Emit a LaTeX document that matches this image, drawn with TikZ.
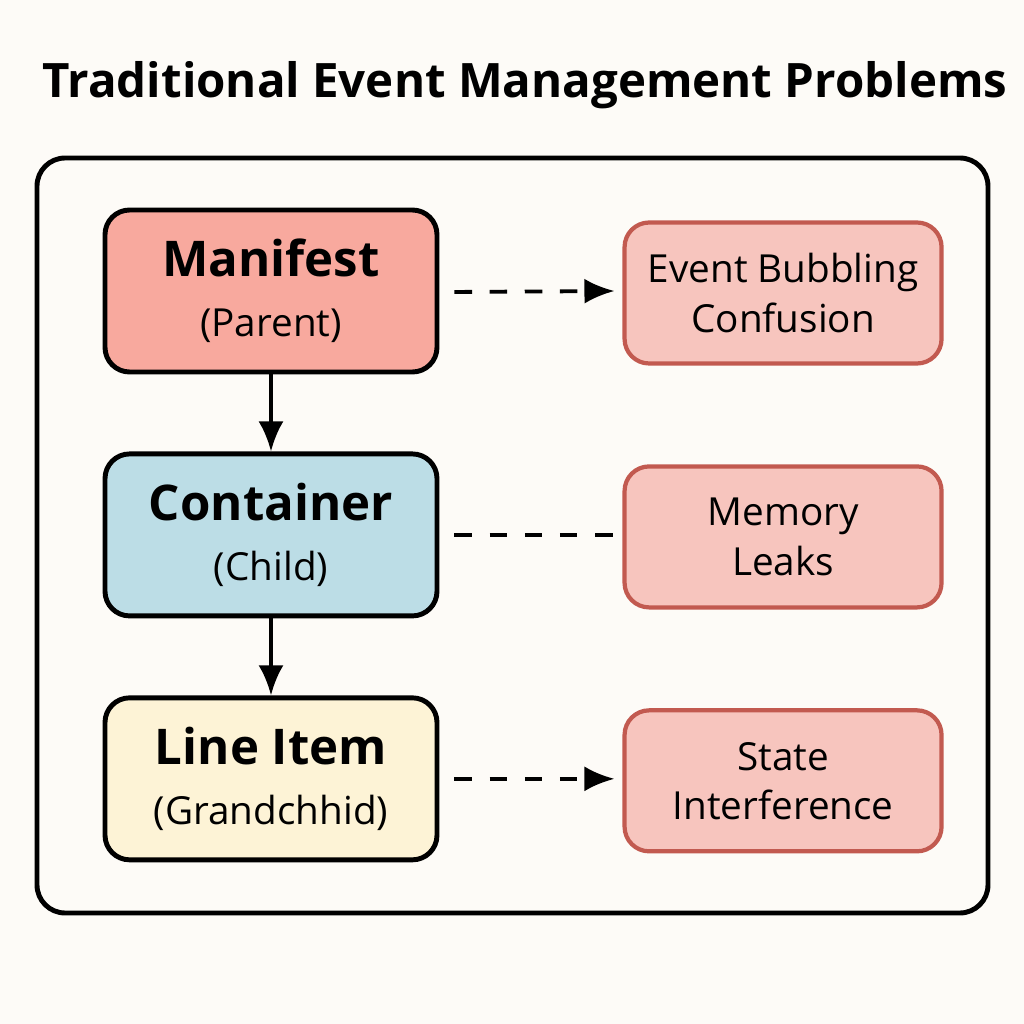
\documentclass[tikz,border=0pt]{standalone}
\usepackage{fontspec}
\setmainfont{Open Sans}
\usepackage{tikz}
\usetikzlibrary{positioning,arrows.meta}

\definecolor{bgc}{HTML}{FDFBF7}
\definecolor{redf}{HTML}{F8A99E}
\definecolor{bluef}{HTML}{BCDDE6}
\definecolor{yelf}{HTML}{FDF3D6}
\definecolor{probf}{HTML}{F7C5BE}
\definecolor{probd}{HTML}{C25A50}

\begin{document}
\begin{tikzpicture}[auto,node distance=0.77cm]
	\tikzstyle{level}=[rectangle,rounded corners=7pt,draw=black,line width=1.4pt,minimum width=3.32cm,minimum height=1.62cm,align=center,font=\fontsize{11}{17}\selectfont]
	\tikzstyle{problem}=[rectangle,rounded corners=7pt,draw=probd,fill=probf,line width=1.2pt,minimum width=3.17cm,minimum height=1.41cm,align=center,font=\fontsize{11}{14}\selectfont]
	\tikzstyle{flow}=[-{Latex[length=3mm,width=2.5mm]},line width=1.1pt]
	\tikzstyle{hint}=[dashed,dash pattern=on 5pt off 5pt,line width=1.1pt]
		\fill[bgc] (0,0) rectangle (10.24,10.24);
		\useasboundingbox (0,0) rectangle (10.24,10.24);
		\node (title) at (5.25,9.39) {\fontsize{13.5}{16}\selectfont\bfseries Traditional Event Management Problems};
		\draw[line width=1.4pt,rounded corners=8pt] (0.37,1.11) rectangle (9.88,8.66);
		\node[level, fill=redf] (manifest) at (2.71,7.33) {{\fontsize{14}{17}\selectfont\bfseries Manifest}\\(Parent)};
		\node[level, fill=bluef, below=of manifest] (container) {{\fontsize{14}{17}\selectfont\bfseries Container}\\(Child)};
		\node[level, fill=yelf, below=of container] (item) {{\fontsize{14}{17}\selectfont\bfseries Line Item}\\(Grandchhid)};
			\draw[flow] (manifest) -- (container);
			\draw[flow] (container) -- (item);
		\node[problem, right=1.83cm of manifest, yshift=-0.02cm] (bubble) {Event Bubbling\\Confusion};
		\node[problem, right=1.83cm of container, yshift=-0.02cm] (leaks) {Memory\\Leaks};
		\node[problem, right=1.83cm of item, yshift=-0.02cm] (state) {State\\Interference};
			\draw[hint,flow] ([xshift=0.15cm,yshift=-0.01cm]manifest.east) -- ([xshift=-0.08cm]bubble.west|-manifest.east);
			\draw[hint] ([xshift=0.15cm]container.east) -- ([xshift=-0.08cm]leaks.west|-container.east);
			\draw[hint,flow] ([xshift=0.15cm]item.east) -- ([xshift=-0.08cm]state.west|-item.east);
\end{tikzpicture}
\end{document}
